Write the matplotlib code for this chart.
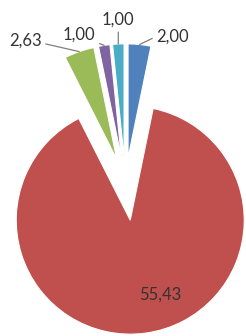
import matplotlib
matplotlib.use("Agg")
import numpy as np
import matplotlib.pyplot as plt

values = [2.00, 55.43, 2.63, 1.00, 1.00]
labels = ["2,00", "55,43", "2,63", "1,00", "1,00"]
colors = ["#4F81BD", "#C0504D", "#9BBB59", "#8064A2", "#4BACC6"]
explode = [0.23, 0.32, 0.23, 0.23, 0.23]

# label offsets in pixels from the outer middle of each slice (red: from its centre)
offsets = [(33, 8), (30, -74), (-54, 11), (-25, 11), (0, 24)]
relpos = [(0.0, 0.5), None, (1.0, 0.35), (0.9, 0.1), (0.5, 0.0)]

plt.rcParams['font.family'] = ['Lato', 'DejaVu Sans']

fig = plt.figure(figsize=(2.46, 3.36), dpi=100)
ax = fig.add_axes([0, 0, 1, 1])
wedges, _ = ax.pie(values, explode=explode, colors=colors, startangle=90,
                   counterclock=False, radius=1.0,
                   wedgeprops=dict(edgecolor="white", linewidth=0.8))

for w, lab, off, rp in zip(wedges, labels, offsets, relpos):
    ang = np.deg2rad((w.theta1 + w.theta2) / 2)
    cx, cy = w.center
    if rp is not None:
        xy = (cx + w.r * np.cos(ang), cy + w.r * np.sin(ang))
        ax.annotate(lab, xy=xy, xytext=off, textcoords="offset pixels",
                    ha="center", va="center", fontsize=12, color="#333333",
                    arrowprops=dict(arrowstyle="-", color="#7f7f7f", lw=0.9,
                                    relpos=rp, shrinkA=1, shrinkB=0))
    else:
        ax.annotate(lab, xy=(cx, cy), xytext=off, textcoords="offset pixels",
                    ha="center", va="center", fontsize=12, color="#333333")

# 114 px per unit radius, pie centre at pixel (125.4, 184)
ax.set_xlim(-125.4 / 114, (246 - 125.4) / 114)
ax.set_ylim(-(336 - 184) / 114, 184 / 114)
ax.set_aspect("equal")
ax.axis("off")

fig.savefig("out.png", dpi=100)
